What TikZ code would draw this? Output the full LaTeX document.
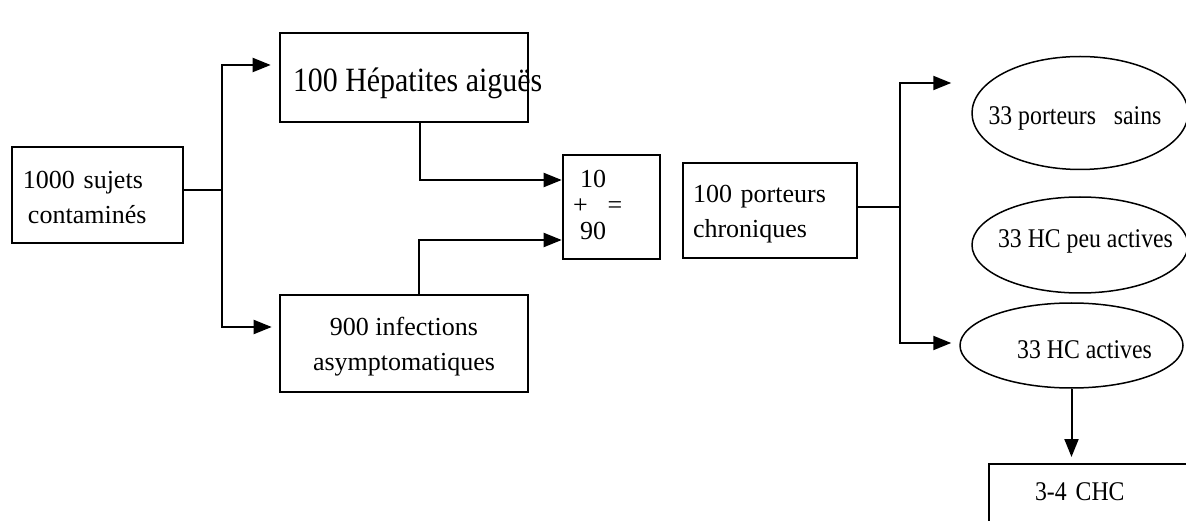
\documentclass[tikz,border=0pt]{standalone}
\usepackage{fontspec}
\setmainfont{Liberation Serif}
\newfontfamily\condfont[FakeStretch=0.88]{Liberation Serif}
\usetikzlibrary{arrows.meta,shapes.geometric}
\begin{document}
\begin{tikzpicture}[x=1pt,y=-1pt,
  boxn/.style={draw, line width=2.6pt, rectangle, inner sep=0pt, font=\fontsize{26}{35}\selectfont},
  ell/.style={draw, line width=1.5pt, ellipse, inner sep=0pt, font=\condfont\fontsize{27}{32}\selectfont},
  conn/.style={line width=2pt},
  arr/.style={conn, -{Triangle[length=18pt,width=14pt]}}]
\useasboundingbox (0,0) rectangle (1186,521);
\clip (0,0) rectangle (1186,521);

\node[boxn, minimum width=171pt, minimum height=96pt, align=left, text width=149pt, text depth=31pt] (b1) at (97.5,195) {1000 sujets\\\hspace*{5pt}contaminés};
\node[boxn, minimum width=248pt, minimum height=89pt, font=\condfont\fontsize{34}{40}\selectfont, text height=37pt, text depth=8pt] (b2) at (404,77.5) {\makebox[222pt][l]{100 Hépatites aiguës}};
\node[boxn, minimum width=248pt, minimum height=97pt, align=center, text depth=0pt] (b4) at (404,343.5) {900 infections\\asymptomatiques};
\node[boxn, minimum width=97pt, minimum height=104pt, align=left, text width=77pt, font=\fontsize{26}{26}\selectfont, text depth=56pt] (b3) at (611.5,207) {\hspace*{7pt}10\\+\hspace{20pt}=\\\hspace*{7pt}90};
\node[boxn, minimum width=174pt, minimum height=95pt, align=left, text width=154pt, text depth=33pt] (b5) at (770,210.5) {100 porteurs\\chroniques};

\node[ell, minimum width=216pt, minimum height=113pt, text height=24pt, text depth=0pt] (e1) at (1080,113) {\makebox[0pt]{\hspace*{-10pt}33 porteurs\ \ \ sains}};
\node[ell, minimum width=216pt, minimum height=96pt, text height=16pt, text depth=10pt] (e2) at (1080,245) {\makebox[0pt]{\hspace*{11pt}33 HC peu actives}};
\node[ell, minimum width=223pt, minimum height=85pt, text height=25pt, text depth=0pt] (e3) at (1071.5,345.5) {\makebox[0pt]{\hspace*{26pt}33 HC actives}};

\node[boxn, line width=2pt, minimum width=241pt, minimum height=96pt, align=left, text width=149pt, text height=0pt, text depth=24pt, font=\condfont\fontsize{27}{32}\selectfont] (b6) at (1109.5,512) {3-4 CHC};

\coordinate (j1) at (222,190);
\draw[conn] ([yshift=5pt]b1.east) -- (j1);
\draw[arr, shorten >=8pt] (j1) |- ([yshift=12.5pt]b2.west);
\draw[arr, shorten >=7pt] (j1) |- ([yshift=16.5pt]b4.west);
\draw[arr] ([xshift=16pt]b2.south) |- ([yshift=27pt]b3.west);
\draw[arr] ([xshift=15pt]b4.north) |- ([yshift=-33pt]b3.west);

\coordinate (j2) at (900,207);
\draw[conn] ([yshift=3.5pt]b5.east) -- (j2);
\draw[arr, shorten >=20pt] (j2) |- ([yshift=30pt]e1.west);
\draw[arr, shorten >=8pt] (j2) |- ([yshift=2.5pt]e3.west);
\draw[arr, shorten >=6pt] (e3.south) -- (e3.south |- b6.north);
\end{tikzpicture}
\end{document}
